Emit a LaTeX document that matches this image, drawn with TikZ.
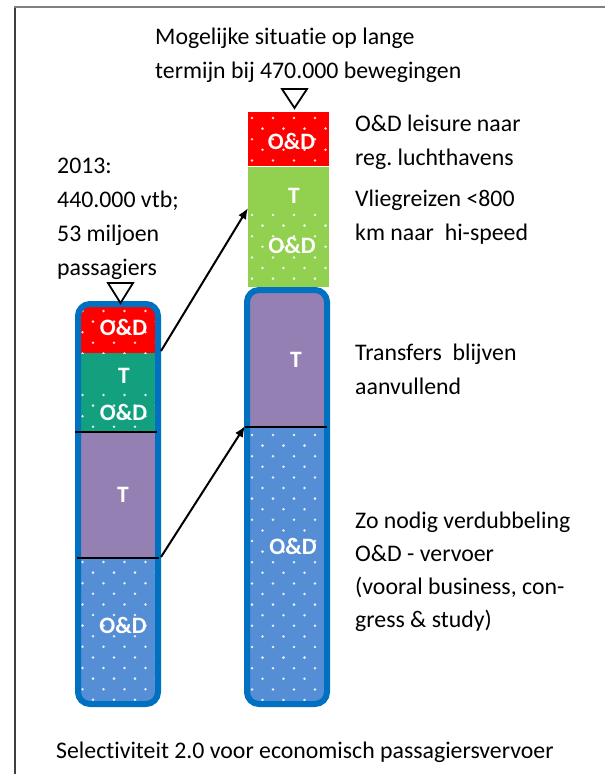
\documentclass[tikz,border=0pt]{standalone}
\usepackage{fontspec}
\setmainfont[Ligatures=NoCommon]{Carlito}
\usetikzlibrary{arrows.meta}
\definecolor{cRed}{HTML}{FF0000}
\definecolor{cTeal}{HTML}{12A07F}
\definecolor{cGreen}{HTML}{92D050}
\definecolor{cPurple}{HTML}{9580B3}
\definecolor{cBlue}{HTML}{558ED5}
\definecolor{cBorder}{HTML}{0070C0}
\newcommand\dotsin[5]{%
  \begin{scope}
    \clip (#1,#2) rectangle (#3,#4);
    \foreach \rr in {0,...,27}{
      \foreach \cc in {0,...,4}{
        \fill[white, opacity=0.85] ({#5+\cc*21+mod(\rr,2)*10.5},{#2+4+\rr*10.6}) circle (1.4pt);
      }}
  \end{scope}}
\frenchspacing
\begin{document}
\begin{tikzpicture}[x=1pt,y=-1pt,
  txt/.style={anchor=base west, inner sep=0pt, font=\fontsize{23.8}{28}\selectfont},
  lbl/.style={anchor=base, inner sep=0pt, text=white, font=\fontsize{23.5}{27}\selectfont\bfseries},
  bar/.style={draw=cBorder, line width=6pt, rounded corners=12pt},
  sep/.style={draw=black, line width=2pt},
  tri/.style={draw=black, fill=white, line width=1.8pt, line join=miter},
  arr/.style={draw=black, line width=2pt, -{Latex[length=11pt,width=9pt]}}]
\useasboundingbox (0,0) rectangle (605,774);
% frame
\draw[color=black!75, line width=2pt] (15,7) -- (15,774);
\draw[color=black!50, line width=2pt] (14,7) -- (605,7);

% ---- left bar ----
\begin{scope}
  \clip[rounded corners=12pt] (78,304) rectangle (158,704);
  \fill[cRed] (70,296) rectangle (170,353);
  \fill[cTeal] (70,353) rectangle (170,432);
  \fill[cPurple] (70,432) rectangle (170,557);
  \fill[cBlue] (70,557) rectangle (170,712);
  \dotsin{70}{307}{170}{353}{82.5}
  \dotsin{70}{391}{170}{432}{82.5}
  \dotsin{70}{558}{170}{712}{82.5}
\end{scope}
\path[bar] (78,304) rectangle (158,704);
\draw[sep] (75,432) -- (157,432);
\draw[sep] (77,557.5) -- (159,557.5);
\draw[tri] (108,283) -- (133,283) -- (120.5,303) -- cycle;

% ---- right bar ----
\fill[cRed] (248,112) rectangle (329,166);
\fill[cGreen] (248,167) rectangle (329,287);
\dotsin{248}{114}{329}{166}{252}
\dotsin{248}{211}{329}{287}{252}
\begin{scope}
  \clip[rounded corners=12pt] (247,290) rectangle (327,704);
  \fill[cPurple] (240,282) rectangle (335,426);
  \fill[cBlue] (240,426) rectangle (335,712);
  \dotsin{240}{431}{335}{712}{252}
\end{scope}
\path[bar] (247,290) rectangle (327,704);
\draw[sep] (245,427) -- (327,427);
\draw[tri] (282,89) -- (307,89) -- (294.5,108) -- cycle;

% ---- arrows ----
\coordinate (a1s) at (161,351);
\coordinate (a1e) at (248,208);
\coordinate (a2s) at (161,557);
\coordinate (a2e) at (245,426);
\draw[arr] (a1s) -- (a1e);
\draw[arr] (a2s) -- (a2e);

% ---- bar labels ----
\node[lbl] (l1) at (123.5,335) {O\&D};
\node[lbl] (l2) at (124,383) {T};
\node[lbl] (l3) at (123.5,420) {O\&D};
\node[lbl] (l4) at (123,502) {T};
\node[lbl] (l5) at (123,633) {O\&D};
\node[lbl] (r1) at (291.5,149) {O\&D};
\node[lbl] (r2) at (294,203) {T};
\node[lbl] (r3) at (292,253) {O\&D};
\node[lbl] (r4) at (296,367) {T};
\node[lbl] (r5) at (293,554) {O\&D};

% ---- texts ----
\node[txt] (t1) at (155,44) {Mogelijke situatie op lange};
\node[txt] (t2) at (155,78) {termijn bij 470.000 bewegingen};
\node[txt] (y1) at (57,173) {2013:};
\node[txt] (y2) at (57,207) {440.000 vtb;};
\node[txt] (y3) at (57,241) {53 miljoen};
\node[txt] (y4) at (57,275) {passagiers};
\node[txt] (d1) at (355,131) {O\&D leisure naar};
\node[txt] (d2) at (355,165) {reg. luchthavens};
\node[txt] (d3) at (355,206) {Vliegreizen <800};
\node[txt] (d4) at (355,240) {km naar\ \ hi-speed};
\node[txt] (d5) at (355,360) {Transfers\ \ blijven};
\node[txt] (d6) at (355,394) {aanvullend};
\node[txt] (d7) at (355,528) {Zo nodig verdubbeling};
\node[txt] (d8) at (355,561) {O\&D - vervoer};
\node[txt] (d9) at (355,594) {(vooral business, con-};
\node[txt] (d10) at (355,627) {gress \& study)};
\node[txt] (b1) at (56,758) {Selectiviteit 2.0 voor economisch passagiersvervoer};
\end{tikzpicture}
\end{document}
